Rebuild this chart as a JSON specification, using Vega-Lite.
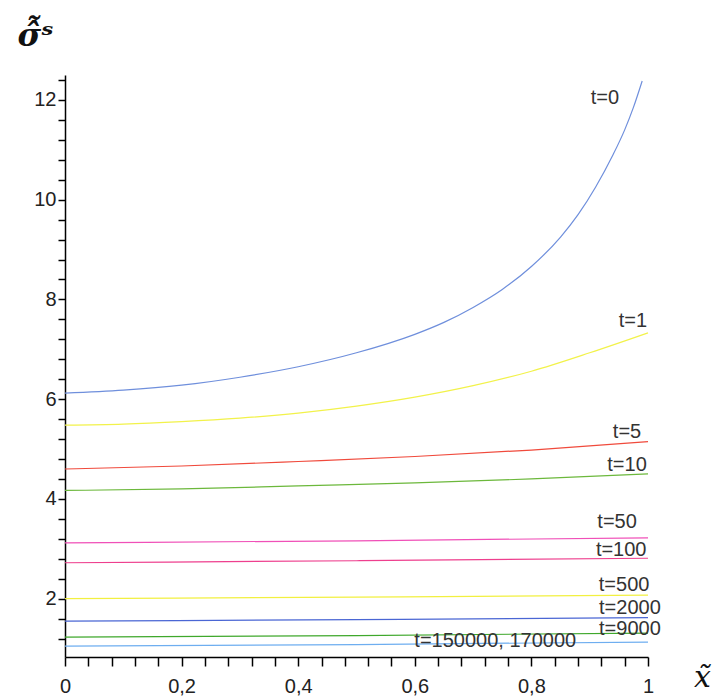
{
  "$schema": "https://vega.github.io/schema/vega-lite/v6.json",
  "autosize": "none",
  "width": 583,
  "height": 582,
  "padding": {"left": 65, "top": 75, "right": 65, "bottom": 39},
  "background": "white",
  "config": {"view": {"stroke": null}},
  "datasets": {
    "curves": [
      {"t": "0", "x": 0, "y": 6.12}, {"t": "0", "x": 0.1, "y": 6.18}, {"t": "0", "x": 0.2, "y": 6.28}, {"t": "0", "x": 0.3, "y": 6.44}, {"t": "0", "x": 0.4, "y": 6.65}, {"t": "0", "x": 0.5, "y": 6.93}, {"t": "0", "x": 0.6, "y": 7.3}, {"t": "0", "x": 0.65, "y": 7.54}, {"t": "0", "x": 0.7, "y": 7.84}, {"t": "0", "x": 0.75, "y": 8.2}, {"t": "0", "x": 0.8, "y": 8.66}, {"t": "0", "x": 0.85, "y": 9.25}, {"t": "0", "x": 0.88, "y": 9.7}, {"t": "0", "x": 0.91, "y": 10.25}, {"t": "0", "x": 0.94, "y": 10.9}, {"t": "0", "x": 0.96, "y": 11.4}, {"t": "0", "x": 0.975, "y": 11.85}, {"t": "0", "x": 0.99, "y": 12.38},
      {"t": "1", "x": 0, "y": 5.48}, {"t": "1", "x": 0.1, "y": 5.5}, {"t": "1", "x": 0.2, "y": 5.55}, {"t": "1", "x": 0.3, "y": 5.62}, {"t": "1", "x": 0.4, "y": 5.72}, {"t": "1", "x": 0.5, "y": 5.86}, {"t": "1", "x": 0.6, "y": 6.04}, {"t": "1", "x": 0.7, "y": 6.27}, {"t": "1", "x": 0.8, "y": 6.56}, {"t": "1", "x": 0.9, "y": 6.93}, {"t": "1", "x": 1.0, "y": 7.33},
      {"t": "5", "x": 0, "y": 4.6}, {"t": "5", "x": 0.2, "y": 4.66}, {"t": "5", "x": 0.4, "y": 4.75}, {"t": "5", "x": 0.6, "y": 4.85}, {"t": "5", "x": 0.8, "y": 4.98}, {"t": "5", "x": 1.0, "y": 5.15},
      {"t": "10", "x": 0, "y": 4.17}, {"t": "10", "x": 0.2, "y": 4.2}, {"t": "10", "x": 0.4, "y": 4.26}, {"t": "10", "x": 0.6, "y": 4.32}, {"t": "10", "x": 0.8, "y": 4.4}, {"t": "10", "x": 1.0, "y": 4.5},
      {"t": "50", "x": 0, "y": 3.12}, {"t": "50", "x": 0.5, "y": 3.16}, {"t": "50", "x": 1.0, "y": 3.22},
      {"t": "100", "x": 0, "y": 2.72}, {"t": "100", "x": 0.5, "y": 2.76}, {"t": "100", "x": 1.0, "y": 2.81},
      {"t": "500", "x": 0, "y": 2.0}, {"t": "500", "x": 0.5, "y": 2.03}, {"t": "500", "x": 1.0, "y": 2.07},
      {"t": "2000", "x": 0, "y": 1.55}, {"t": "2000", "x": 0.5, "y": 1.58}, {"t": "2000", "x": 1.0, "y": 1.62},
      {"t": "9000", "x": 0, "y": 1.23}, {"t": "9000", "x": 0.5, "y": 1.26}, {"t": "9000", "x": 1.0, "y": 1.31},
      {"t": "150000", "x": 0, "y": 1.05}, {"t": "150000", "x": 0.5, "y": 1.08}, {"t": "150000", "x": 1.0, "y": 1.13}
    ],
    "labels": [
      {"label": "t=0", "x": 0.926, "y": 12.04},
      {"label": "t=1", "x": 0.974, "y": 7.56},
      {"label": "t=5", "x": 0.964, "y": 5.35},
      {"label": "t=10", "x": 0.964, "y": 4.68},
      {"label": "t=50", "x": 0.947, "y": 3.53},
      {"label": "t=100", "x": 0.954, "y": 2.97},
      {"label": "t=500", "x": 0.959, "y": 2.28},
      {"label": "t=2000", "x": 0.969, "y": 1.82},
      {"label": "t=9000", "x": 0.969, "y": 1.4},
      {"label": "t=150000, 170000", "x": 0.738, "y": 1.15}
    ]
  },
  "encoding": {
    "x": {
      "field": "x", "type": "quantitative",
      "scale": {"domain": [0, 1], "nice": false, "zero": false},
      "axis": {
        "values": [0, 0.04, 0.08, 0.12, 0.16, 0.2, 0.24, 0.28, 0.32, 0.36, 0.4, 0.44, 0.48, 0.52, 0.56, 0.6, 0.64, 0.68, 0.72, 0.76, 0.8, 0.84, 0.88, 0.92, 0.96, 1],
        "format": "~g",
        "labelExpr": "abs(datum.value*5 - round(datum.value*5)) < 0.001 ? replace(datum.label, '.', ',') : ''",
        "labelOverlap": false,
        "labelFlush": false,
        "grid": false,
        "domainColor": "#000", "domainWidth": 1.5,
        "tickColor": "#000", "tickSize": 9, "tickWidth": 1.5,
        "labelFont": "Liberation Sans", "labelFontSize": 20, "labelColor": "#222", "labelPadding": 10,
        "title": "x̃",
        "titleFont": "DejaVu Serif", "titleFontStyle": "italic", "titleFontWeight": "normal", "titleFontSize": 30, "titleColor": "#111",
        "titleX": 637, "titleY": 20, "titleAlign": "center", "titleBaseline": "middle"
      }
    },
    "y": {
      "field": "y", "type": "quantitative",
      "scale": {"domain": [0.83, 12.5], "nice": false, "zero": false},
      "axis": {
        "values": [1.2, 1.6, 2, 2.4, 2.8, 3.2, 3.6, 4, 4.4, 4.8, 5.2, 5.6, 6, 6.4, 6.8, 7.2, 7.6, 8, 8.4, 8.8, 9.2, 9.6, 10, 10.4, 10.8, 11.2, 11.6, 12, 12.4],
        "format": "~g",
        "labelExpr": "abs(datum.value/2 - round(datum.value/2)) < 0.001 ? datum.label : ''",
        "labelOverlap": false,
        "labelFlush": false,
        "grid": false,
        "domainColor": "#000", "domainWidth": 1.5,
        "tickColor": "#000", "tickSize": 7, "tickWidth": 1.5,
        "labelFont": "Liberation Sans", "labelFontSize": 20, "labelColor": "#222", "labelPadding": 2,
        "title": "σ̂̃ˢ",
        "titleAngle": 0,
        "titleFont": "DejaVu Serif", "titleFontStyle": "italic", "titleFontWeight": "bold", "titleFontSize": 32, "titleColor": "#111",
        "titleX": -30, "titleY": -40, "titleAlign": "center", "titleBaseline": "middle"
      }
    }
  },
  "layer": [
    {
      "data": {"name": "curves"},
      "mark": {"type": "line", "strokeWidth": 1.2, "interpolate": "monotone"},
      "encoding": {
        "color": {
          "field": "t", "type": "nominal",
          "scale": {
            "domain": ["0", "1", "5", "10", "50", "100", "500", "2000", "9000", "150000"],
            "range": ["#6f8fdc", "#f2f24a", "#f04a3c", "#6cb83c", "#f050b8", "#ee3f8e", "#f2f040", "#4a66d4", "#3fa82c", "#6eaef0"]
          },
          "legend": null
        },
        "detail": {"field": "t"}
      }
    },
    {
      "data": {"name": "labels"},
      "mark": {"type": "text", "font": "Liberation Sans", "fontSize": 20, "color": "#333", "align": "center", "baseline": "middle"},
      "encoding": {
        "text": {"field": "label"}
      }
    }
  ]
}
